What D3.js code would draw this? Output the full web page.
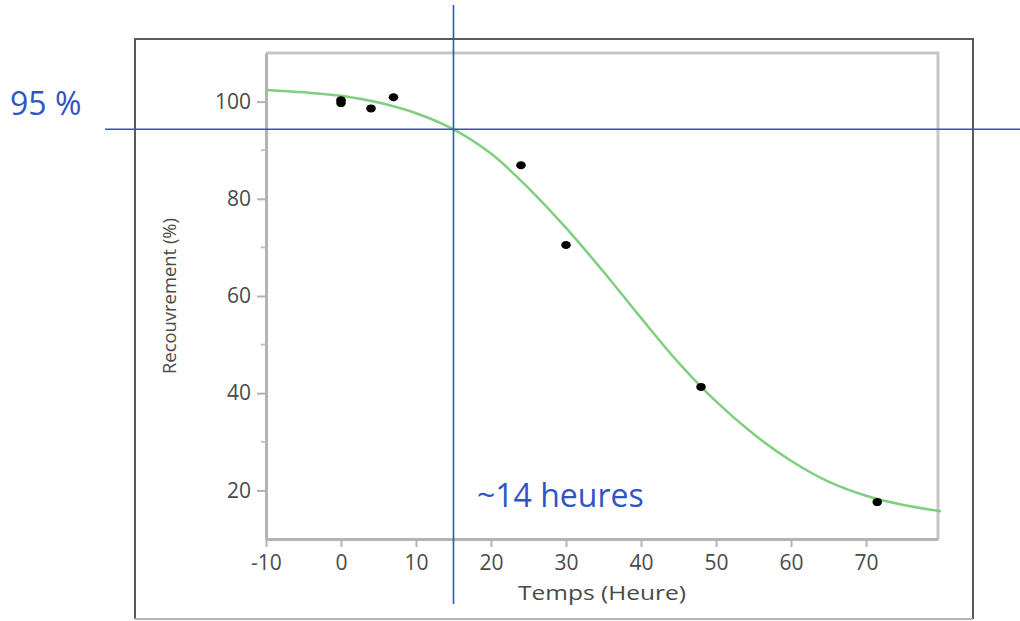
<!DOCTYPE html>
<html>
<head>
<meta charset="utf-8">
<script src="https://cdn.jsdelivr.net/npm/d3@7"></script>
<style>
  body { margin: 0; background: #fff; }
  svg { display: block; }
</style>
</head>
<body>
<svg width="1020" height="621"></svg>
<script>
// measured points
var temps = [0, 0, 4, 7, 24, 30, 48, 71.5];
var recouvrement = [100.3, 99.7, 98.6, 100.9, 86.9, 70.5, 41.3, 17.6];

// fitted curve
var curveX = [-10, -5, 0, 5, 10, 15, 20, 25, 30, 35, 40, 45, 50, 55, 60, 65, 70, 75, 80];
var curveY = [102.4, 101.9, 101.2, 99.8, 97.6, 94.3, 89.3, 82.2, 74.0, 65.0, 55.5, 46.3, 38.3, 31.6, 26.1, 21.8, 18.9, 17.0, 15.7];

var xTicks = [-10, 0, 10, 20, 30, 40, 50, 60, 70];
var yTicks = [20, 40, 60, 80, 100];
var yMinor = [30, 50, 70, 90];

var seuilX = 15, seuilY = 94.3;

var svg = d3.select("svg");

var x = d3.scaleLinear().domain([-10, 79.6]).range([266, 938]);
var y = d3.scaleLinear().domain([10, 110]).range([539, 53]);

// outer frame
var g0 = svg.append("g").attr("fill", "none");
g0.append("path").attr("d", "M135,619 V39 H973 V619")
    .attr("stroke", "#5a5a5a").attr("stroke-width", 2);
g0.append("line").attr("x1", 135).attr("x2", 973).attr("y1", 619).attr("y2", 619)
    .attr("stroke", "#b4b4b4").attr("stroke-width", 2);

// inner frame top/right
svg.append("path")
    .attr("d", "M" + x(-10) + "," + y(110) + " H" + x(79.6) + " V" + y(10))
    .attr("fill", "none").attr("stroke", "#c6c6c6").attr("stroke-width", 3);

var axisFont = "'Open Sans', sans-serif";
var fmt = function (d) { return String(d); };

var gx = svg.append("g")
    .attr("transform", "translate(0," + y(10) + ")")
    .call(d3.axisBottom(x).tickValues(xTicks).tickFormat(fmt).tickSize(8).tickPadding(8).tickSizeOuter(0));
var gy = svg.append("g")
    .attr("transform", "translate(" + x(-10) + ",0)")
    .call(d3.axisLeft(y).tickValues(yTicks).tickFormat(fmt).tickSize(9).tickPadding(6).tickSizeOuter(0));

[gx, gy].forEach(function (g) {
    g.select(".domain").attr("stroke", "#b3b3b3").attr("stroke-width", 3);
    g.selectAll(".tick line").attr("stroke", "#b3b3b3").attr("stroke-width", 2);
    g.selectAll(".tick text").attr("fill", "#4a4a4a").style("font-family", axisFont).style("font-size", "21px");
});

gy.selectAll(".minor").data(yMinor).enter().append("line")
    .attr("x1", 0).attr("x2", -5)
    .attr("y1", function (d) { return y(d); }).attr("y2", function (d) { return y(d); })
    .attr("stroke", "#c0c0c0").attr("stroke-width", 2);

// axis titles
svg.append("text")
    .attr("x", 602).attr("y", 600)
    .attr("text-anchor", "middle")
    .attr("fill", "#4a4a4a")
    .attr("textLength", 168).attr("lengthAdjust", "spacingAndGlyphs")
    .style("font-family", axisFont).style("font-size", "20px")
    .text("Temps (Heure)");

svg.append("text")
    .attr("transform", "translate(176,296) rotate(-90)")
    .attr("text-anchor", "middle")
    .attr("fill", "#4a4a4a")
    .attr("textLength", 156).attr("lengthAdjust", "spacingAndGlyphs")
    .style("font-family", axisFont).style("font-size", "18px")
    .text("Recouvrement (%)");

// fitted curve
var line = d3.line()
    .x(function (d, i) { return x(curveX[i]); })
    .y(function (d) { return y(d); })
    .curve(d3.curveCatmullRom);

svg.append("path")
    .datum(curveY)
    .attr("d", line)
    .attr("fill", "none")
    .attr("stroke", "#7fcf7f")
    .attr("stroke-width", 2.5);

// points
svg.selectAll(".pt")
    .data(temps)
    .enter().append("ellipse")
    .attr("class", "pt")
    .attr("cx", function (d) { return x(d); })
    .attr("cy", function (d, i) { return y(recouvrement[i]); })
    .attr("rx", 4.8).attr("ry", 4)
    .attr("fill", "#000");

// annotation lines
var blue = "#2f55c4";
svg.append("line")
    .attr("x1", 105).attr("x2", 1020)
    .attr("y1", y(seuilY)).attr("y2", y(seuilY))
    .attr("stroke", blue).attr("stroke-width", 1.6);
svg.append("line")
    .attr("x1", x(seuilX)).attr("x2", x(seuilX))
    .attr("y1", 5).attr("y2", 604)
    .attr("stroke", blue).attr("stroke-width", 1.6);

svg.append("text")
    .attr("x", 10).attr("y", 115)
    .attr("fill", blue)
    .style("font-family", axisFont).style("font-size", "32px")
    .text("95 %");

svg.append("text")
    .attr("x", 477).attr("y", 507)
    .attr("fill", blue)
    .style("font-family", axisFont).style("font-size", "32px")
    .text("~14 heures");
</script>
</body>
</html>
